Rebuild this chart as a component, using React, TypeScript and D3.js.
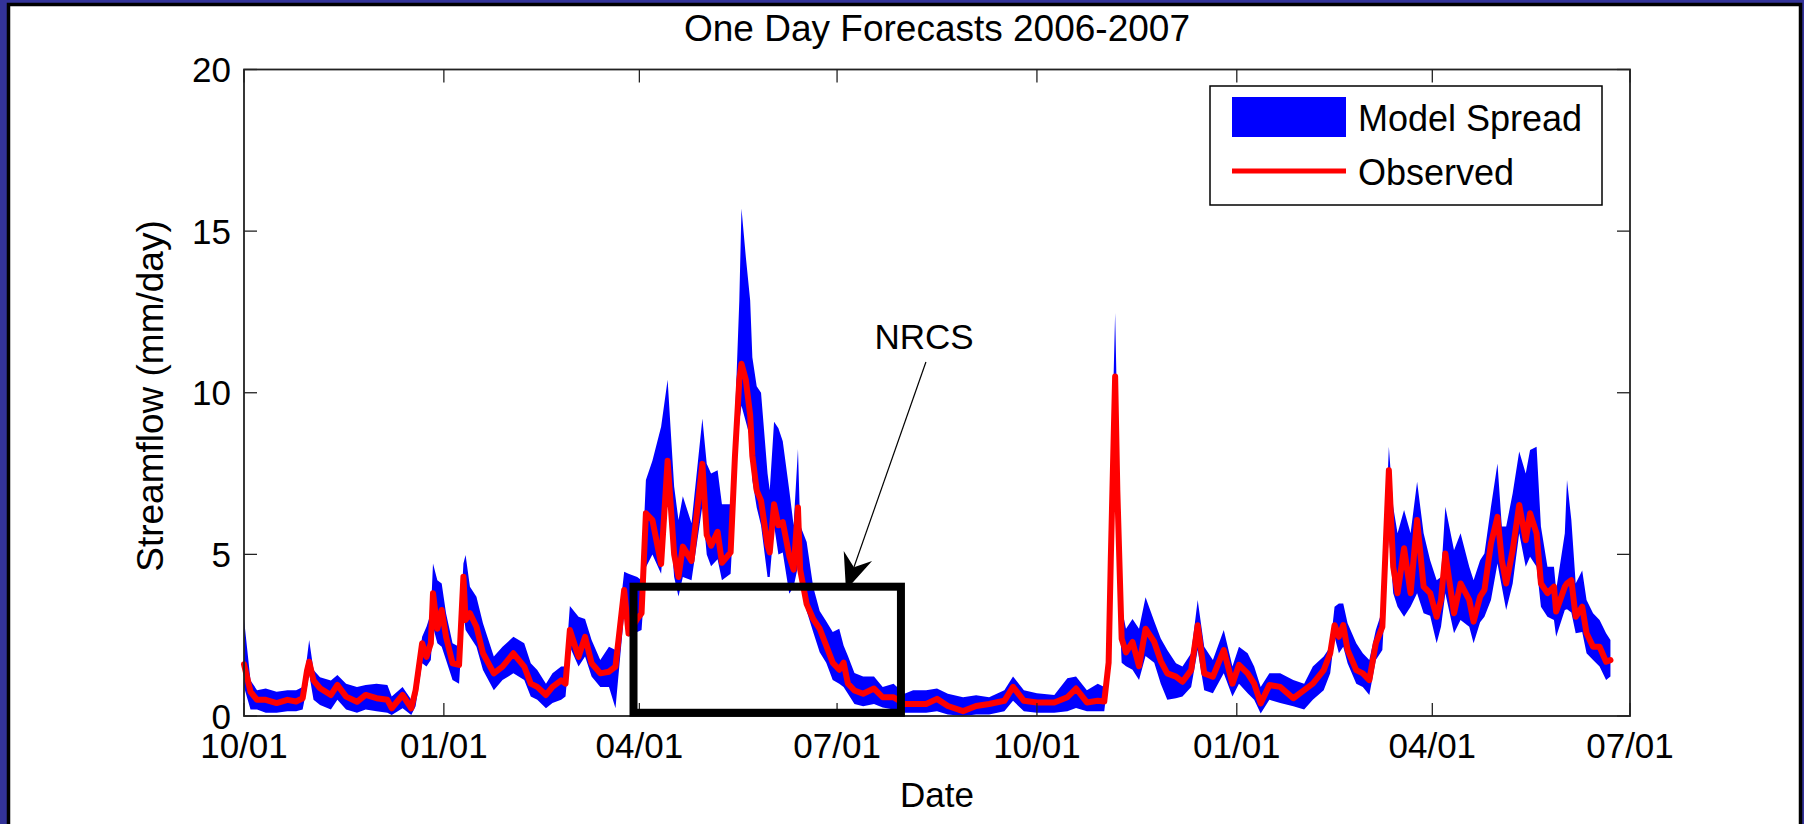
import React from "react";
import * as d3 from "d3";

// ---- data (day offset from 2005-10-01, observed, model spread low/high) ----
const dayIndex = [0,3,6,10,15,20,24,27,29,30,32,35,40,43,47,52,56,61,66,68,73,77,79,82,84,86,87,89,91,93,96,99,101,102,104,107,110,115,119,124,129,132,135,139,142,146,148,150,154,157,160,164,168,171,175,177,181,183,185,188,192,195,198,200,202,206,211,213,215,218,220,224,226,228,229,231,233,234,236,238,241,242,244,246,248,251,253,255,256,259,262,265,268,271,274,276,278,281,285,290,294,299,304,308,314,319,324,331,337,343,350,354,359,365,373,379,383,388,393,396,398,399,401,402,404,406,409,412,415,419,422,425,429,432,436,439,442,446,451,455,458,462,465,468,472,477,483,488,492,497,500,502,504,506,508,512,515,518,521,524,527,529,531,534,537,540,543,546,549,551,553,557,560,564,566,569,571,574,577,579,581,584,587,590,592,595,597,600,603,604,608,609,611,613,616,618,621,624,627,629];
const observed = [1.6,0.75,0.5,0.5,0.4,0.5,0.45,0.55,1.4,1.68,1.1,0.86,0.65,0.96,0.6,0.44,0.65,0.55,0.5,0.24,0.65,0.24,0.8,2.25,1.83,2.25,3.8,2.7,3.28,2.45,1.63,1.58,4.31,2.97,3.18,2.76,1.94,1.32,1.53,1.94,1.53,1.0,0.9,0.65,0.9,1.1,1.0,2.66,1.83,2.45,1.63,1.32,1.37,1.53,3.9,2.55,3.0,3.18,6.27,6.06,4.7,7.9,5.0,4.3,5.24,4.8,7.8,5.6,5.27,5.7,4.74,5.06,8.05,10.4,10.9,10.4,9.3,8.05,6.98,6.66,5.27,5.06,6.55,5.9,6.0,4.95,4.53,6.45,4.53,3.46,3.0,2.7,2.18,1.65,1.43,1.65,1.0,0.79,0.69,0.85,0.58,0.58,0.37,0.37,0.37,0.53,0.31,0.15,0.31,0.37,0.47,0.9,0.47,0.42,0.42,0.58,0.85,0.42,0.47,0.45,1.65,4.85,10.5,7.0,2.39,1.97,2.29,1.54,2.7,2.29,1.7,1.32,1.22,1.06,1.42,2.81,1.32,1.22,2.04,1.0,1.58,1.32,1.0,0.39,0.96,0.9,0.55,0.8,1.0,1.42,1.94,2.81,2.45,2.81,2.04,1.42,1.32,1.11,2.25,2.76,7.6,4.62,3.8,5.19,3.8,6.06,4.0,3.8,3.07,3.59,5.03,3.18,4.1,3.59,2.92,3.69,3.9,5.34,6.16,4.82,4.1,5.13,6.53,5.44,6.27,5.65,4.1,3.8,4.0,3.23,4.0,4.1,4.2,3.07,3.38,2.56,2.14,2.14,1.68,1.73];
const spreadLow = [0.9,0.2,0.2,0.1,0.1,0.15,0.15,0.2,0.9,1.3,0.5,0.34,0.2,0.5,0.2,0.1,0.2,0.15,0.1,0.03,0.24,0.03,0.3,1.63,1.53,1.73,2.76,2.25,2.14,1.73,1.11,1.0,3.18,2.66,2.45,2.14,1.42,0.8,1.11,1.32,1.11,0.6,0.5,0.24,0.4,0.5,0.6,2.14,1.53,1.84,1.22,0.9,0.9,0.24,3.18,2.45,2.6,2.66,4.6,5.0,4.4,7.0,4.3,3.7,4.3,4.2,6.5,5.0,4.63,4.85,4.2,4.4,6.98,9.1,9.6,9.1,8.6,7.3,6.45,5.9,4.3,4.3,5.9,5.0,5.06,3.78,4.0,4.63,4.2,3.25,2.6,1.97,1.65,1.11,1.0,0.9,0.69,0.37,0.3,0.37,0.26,0.2,0.1,0.1,0.1,0.15,0.05,0.0,0.05,0.05,0.15,0.47,0.15,0.1,0.1,0.15,0.25,0.15,0.15,0.15,1.33,3.5,8.05,4.85,1.65,1.54,1.43,1.11,1.86,1.65,1.0,0.5,0.55,0.6,0.9,2.04,0.8,0.7,1.32,0.6,1.0,0.7,0.5,0.08,0.5,0.4,0.3,0.2,0.5,0.8,1.32,2.45,1.94,2.14,1.63,1.0,0.9,0.65,1.73,2.04,5.65,3.8,3.38,3.07,3.38,3.8,3.18,3.1,2.25,2.76,3.8,2.56,2.97,2.76,2.25,2.9,3.07,3.59,4.72,4.0,3.28,4.1,5.65,4.62,4.93,4.62,3.38,3.07,2.97,2.45,3.28,3.3,3.2,2.56,2.6,1.94,1.73,1.53,1.11,1.22];
const spreadHigh = [3.0,1.1,0.8,0.85,0.75,0.8,0.8,0.9,1.8,2.35,1.42,1.2,1.1,1.27,1.0,0.9,0.96,1.0,0.96,0.6,0.9,0.5,1.1,2.45,2.76,3.18,4.72,4.2,4.1,3.18,2.25,2.14,4.72,4.98,4.0,3.69,2.87,1.84,2.14,2.45,2.25,1.63,1.42,1.0,1.32,1.53,1.53,3.4,3.07,3.0,2.35,1.73,2.14,2.04,4.46,4.4,4.3,4.2,7.3,7.9,8.95,10.4,7.1,6.06,6.8,5.96,9.2,7.8,7.5,7.6,6.55,6.55,9.2,12.85,15.7,14.2,12.85,11.1,10.2,10.0,7.5,6.98,9.1,8.9,8.5,6.98,5.9,8.26,5.9,5.38,4.0,3.25,2.93,2.6,2.7,2.18,1.86,1.33,1.22,1.22,0.9,1.0,0.69,0.8,0.8,0.85,0.69,0.58,0.64,0.58,0.8,1.22,0.8,0.7,0.65,1.17,1.22,0.8,1.0,0.9,1.86,6.98,12.47,9.1,3.35,2.7,3.0,2.7,3.67,2.93,2.4,2.04,1.63,1.53,1.94,3.59,2.14,1.73,2.66,1.53,2.14,1.94,1.53,0.9,1.32,1.32,1.11,1.0,1.53,1.84,2.14,3.38,3.48,3.48,2.87,2.25,1.94,1.73,2.66,3.28,8.33,6.47,5.65,6.37,5.65,7.25,5.65,4.82,4.2,4.3,6.47,5.13,5.65,4.62,4.2,4.82,5.03,6.47,7.81,5.86,5.86,6.89,8.18,7.5,8.23,8.33,5.86,4.62,4.62,3.9,5.65,7.3,6.06,4.1,4.5,3.59,3.18,2.97,2.56,2.35];

const yTicks = [0, 5, 10, 15, 20];
const titleText = "One Day Forecasts 2006-2007";
const xLabel = "Date";
const yLabel = "Streamflow (mm/day)";
const legendLabels = ["Model Spread", "Observed"];
const noteText = "NRCS";
// annotation box (day offsets / values) and arrow (day, value)
const boxDays = [179.3, 302.4];
const boxValues = [0.1, 4.0];
const arrowFrom = [313.9, 10.95];
const arrowTo = [277.1, 3.9];

const START = new Date(2005, 9, 1);
const END = new Date(2007, 6, 1);
const toDate = (d: number) => new Date(START.getTime() + d * 86400000);

const W = 1804, H = 824;
const L = 244, R = 1630, T = 69.5, B = 716;
const FONT = "'Liberation Sans', Arial, Helvetica, sans-serif";

export default function App() {
  const x = d3.scaleTime().domain([START, END]).range([L, R]);
  const y = d3.scaleLinear().domain([0, 20]).range([B, T]);
  const rows = dayIndex.map((d, i) => ({ date: toDate(d), obs: observed[i], lo: spreadLow[i], hi: spreadHigh[i] }));
  const area = d3.area<any>().x(r => x(r.date)).y0(r => y(r.lo)).y1(r => y(r.hi));
  const line = d3.line<any>().x(r => x(r.date)).y(r => y(r.obs));
  const xTicks = x.ticks(d3.timeMonth.every(3) as any);
  const fmt = d3.timeFormat("%m/%d");
  const tl = 13;

  // arrow geometry
  const ax0 = x(toDate(arrowFrom[0])), ay0 = y(arrowFrom[1]);
  const ax1 = x(toDate(arrowTo[0])), ay1 = y(arrowTo[1]);
  const len = Math.hypot(ax0 - ax1, ay0 - ay1);
  const ux = (ax0 - ax1) / len, uy = (ay0 - ay1) / len;
  const px = -uy, py = ux;
  const hl = 36, hw = 15, nl = 24;
  const head = [
    [ax1, ay1],
    [ax1 + hl * ux + hw * px, ay1 + hl * uy + hw * py],
    [ax1 + nl * ux, ay1 + nl * uy],
    [ax1 + hl * ux - hw * px, ay1 + hl * uy - hw * py],
  ].map(p => p.join(",")).join(" ");

  const bx0 = x(toDate(boxDays[0])), bx1 = x(toDate(boxDays[1]));
  const by0 = y(boxValues[1]), by1 = y(boxValues[0]);

  return (
    <svg width={W} height={H} style={{ position: "absolute", left: 0, top: 0, fontFamily: FONT }}>
      <rect x={0} y={0} width={W} height={H} fill="#333399" />
      <rect x={8.5} y={4.5} width={W - 12} height={H + 10} fill="#ffffff" stroke="#000" strokeWidth={3.5} />
      <text x={(L + R) / 2} y={41} fontSize={37} textAnchor="middle">{titleText}</text>

      <path d={area(rows) || ""} fill="#0000ff" />
      <path d={line(rows) || ""} fill="none" stroke="#ff0000" strokeWidth={6} strokeLinejoin="round" strokeLinecap="round" />

      {/* axes box */}
      <rect x={L} y={T} width={R - L} height={B - T} fill="none" stroke="#222" strokeWidth={1.8} />
      {xTicks.map((t, i) => (
        <g key={"x" + i}>
          <line x1={x(t)} x2={x(t)} y1={B} y2={B - tl} stroke="#222" strokeWidth={1.3} />
          <line x1={x(t)} x2={x(t)} y1={T} y2={T + tl} stroke="#222" strokeWidth={1.3} />
          <text x={x(t)} y={758} fontSize={35} textAnchor="middle">{fmt(t)}</text>
        </g>
      ))}
      {yTicks.map((v, i) => (
        <g key={"y" + i}>
          <line x1={L} x2={L + tl} y1={y(v)} y2={y(v)} stroke="#222" strokeWidth={1.3} />
          <line x1={R} x2={R - tl} y1={y(v)} y2={y(v)} stroke="#222" strokeWidth={1.3} />
          <text x={231} y={y(v) + 12.5} fontSize={35} textAnchor="end">{v}</text>
        </g>
      ))}
      <text x={(L + R) / 2} y={807} fontSize={35} textAnchor="middle">{xLabel}</text>
      <text transform={`translate(163,396) rotate(-90)`} fontSize={37} textAnchor="middle">{yLabel}</text>

      {/* annotation */}
      <rect x={bx0} y={by0} width={bx1 - bx0} height={by1 - by0} fill="none" stroke="#000" strokeWidth={8} />
      <line x1={ax0} y1={ay0} x2={ax1 + nl * ux} y2={ay1 + nl * uy} stroke="#000" strokeWidth={1.2} />
      <polygon points={head} fill="#000" />
      <text x={924} y={349} fontSize={35} textAnchor="middle">{noteText}</text>

      {/* legend */}
      <rect x={1210} y={86} width={392} height={119} fill="#fff" stroke="#000" strokeWidth={1.5} />
      <rect x={1232} y={97} width={114} height={40} fill="#0000ff" />
      <line x1={1232} x2={1346} y1={171} y2={171} stroke="#ff0000" strokeWidth={5} />
      <text x={1358} y={131} fontSize={36}>{legendLabels[0]}</text>
      <text x={1358} y={185} fontSize={36}>{legendLabels[1]}</text>
    </svg>
  );
}
